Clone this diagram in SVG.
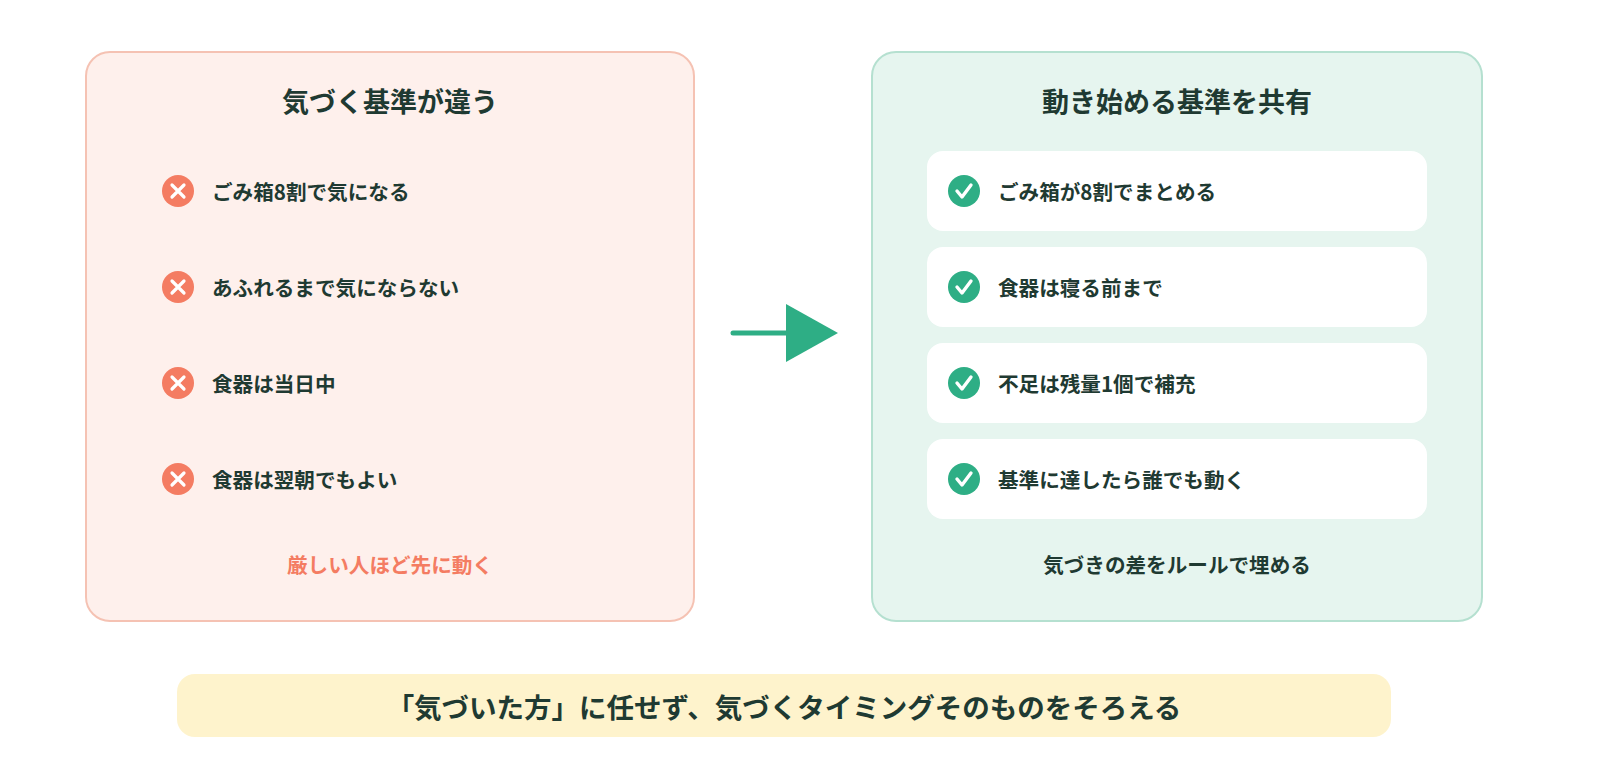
<svg xmlns="http://www.w3.org/2000/svg" width="1600" height="780" viewBox="0 0 1600 780">
<style>
text{font-family:"Noto Sans CJK JP","Noto Sans",sans-serif;font-weight:700;fill:#1F3A32;dominant-baseline:central}
.t{font-size:27px;text-anchor:middle}
.b{font-size:27.5px;text-anchor:middle}
.i{font-size:20.6px}
.c{fill:#fff}
</style>
<defs>
<g id="x"><circle r="16" fill="#F47C62"/><path d="M-6,-6L6,6M6,-6L-6,6" stroke="#fff" stroke-width="3.2" stroke-linecap="round"/></g>
<g id="ok"><circle r="16" fill="#2EAE85"/><path d="M-7,0L-2,6L7,-6" fill="none" stroke="#fff" stroke-width="3.4" stroke-linecap="round" stroke-linejoin="round"/></g>
</defs>
<rect width="1600" height="780" fill="#fff"/>
<g id="left">
<rect x="86" y="52" width="608" height="569" rx="24" fill="#FEF0EC" stroke="#F5C2B3" stroke-width="2"/>
<text class="t" x="390" y="100">気づく基準が違う</text>
<use href="#x" x="178" y="191"/><text class="i" x="212" y="191">ごみ箱8割で気になる</text>
<use href="#x" x="178" y="287"/><text class="i" x="212" y="287">あふれるまで気にならない</text>
<use href="#x" x="178" y="383"/><text class="i" x="212" y="383">食器は当日中</text>
<use href="#x" x="178" y="479"/><text class="i" x="212" y="479">食器は翌朝でもよい</text>
<text class="i" x="390" y="564" text-anchor="middle" style="fill:#F47C62">厳しい人ほど先に動く</text>
</g>
<g id="connectors">
<line x1="733" y1="333" x2="792" y2="333" stroke="#2EAE85" stroke-width="5" stroke-linecap="round"/>
<polygon points="786,304 838,333 786,362" fill="#2EAE85"/>
</g>
<g id="right">
<rect x="872" y="52" width="610" height="569" rx="24" fill="#E6F5EF" stroke="#B5E0D0" stroke-width="2"/>
<text class="t" x="1177" y="100">動き始める基準を共有</text>
<rect class="c" x="927" y="151" width="500" height="80" rx="16"/><use href="#ok" x="964" y="191"/><text class="i" x="998" y="191">ごみ箱が8割でまとめる</text>
<rect class="c" x="927" y="247" width="500" height="80" rx="16"/><use href="#ok" x="964" y="287"/><text class="i" x="998" y="287">食器は寝る前まで</text>
<rect class="c" x="927" y="343" width="500" height="80" rx="16"/><use href="#ok" x="964" y="383"/><text class="i" x="998" y="383">不足は残量1個で補充</text>
<rect class="c" x="927" y="439" width="500" height="80" rx="16"/><use href="#ok" x="964" y="479"/><text class="i" x="998" y="479">基準に達したら誰でも動く</text>
<text class="i" x="1177" y="564" text-anchor="middle">気づきの差をルールで埋める</text>
</g>
<g id="banner">
<rect x="177" y="674" width="1214" height="63" rx="18" fill="#FEF3CC"/>
<text class="b" x="784" y="706">「気づいた方」に任せず、気づくタイミングそのものをそろえる</text>
</g>
</svg>
